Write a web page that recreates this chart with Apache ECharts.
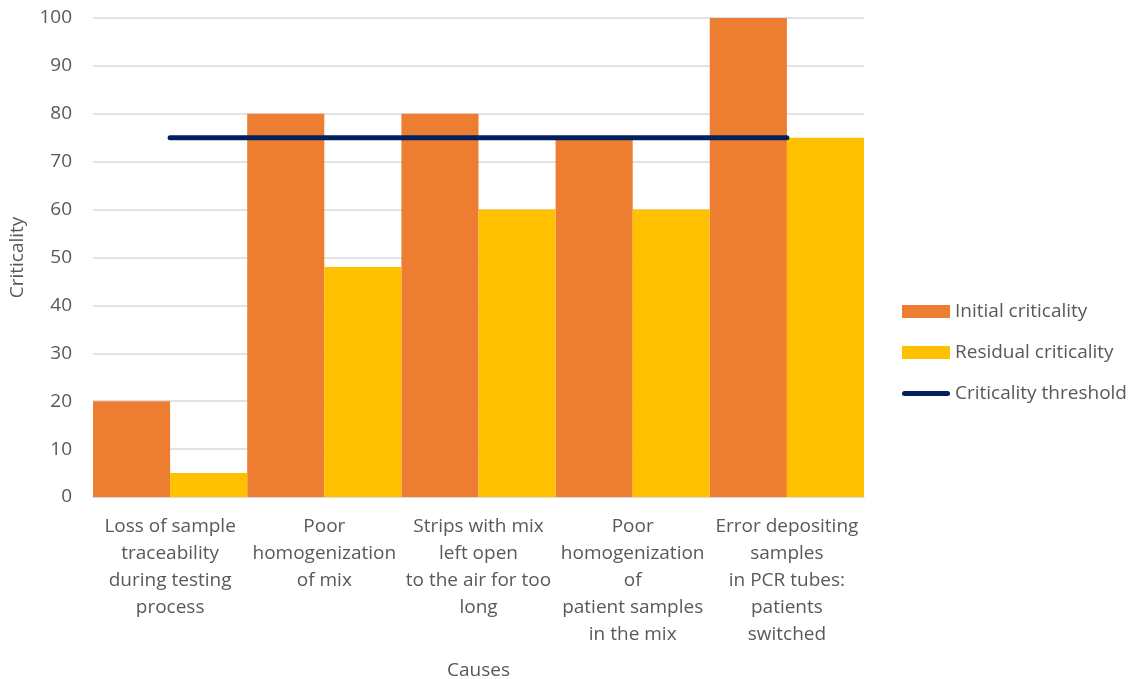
<!DOCTYPE html>
<html><head><meta charset="utf-8">
<script src="https://cdn.jsdelivr.net/npm/echarts@6/dist/echarts.min.js"></script>
<style>html,body{margin:0;padding:0;background:#fff}#c{width:1137px;height:679px}</style>
</head><body><div id="c"></div>
<script>
var categories = [
  "Loss of sample\ntraceability\nduring testing\nprocess",
  "Poor\nhomogenization\nof mix",
  "Strips with mix\nleft open\nto the air for too\nlong",
  "Poor\nhomogenization\nof\npatient samples\nin the mix",
  "Error depositing\nsamples\nin PCR tubes:\npatients\nswitched"
];
var initialCriticality = [20, 80, 80, 75, 100];
var residualCriticality = [5, 48, 60, 60, 75];
var criticalityThreshold = [75, 75, 75, 75, 75];

var font = "'Open Sans', sans-serif";
var fs = 19;
var chart = echarts.init(document.getElementById('c'));
chart.setOption({
  animation: false,
  textStyle: {fontFamily: font},
  grid: {left: 93, right: 273, top: 18, bottom: 182, outerBoundsMode: 'none', containLabel: false},
  legend: {
    orient: 'vertical', left: 897, top: 297, itemWidth: 48, itemHeight: 13, itemGap: 22,
    textStyle: {fontSize: fs, color: '#595959', fontFamily: font},
    data: [
      {name: 'Initial criticality', icon: 'rect'},
      {name: 'Residual criticality', icon: 'rect'},
      {name: 'Criticality threshold',
       icon: 'path://M2.5,0 L45.5,0 A2.5,2.5 0 0 1 45.5,5 L2.5,5 A2.5,2.5 0 0 1 2.5,0 Z',
       itemStyle: {color: '#002060'}}
    ]
  },
  xAxis: {
    type: 'category', data: categories,
    name: 'Causes', nameLocation: 'middle', nameGap: 164,
    nameTextStyle: {fontSize: fs, color: '#595959'},
    axisLine: {lineStyle: {color: '#d9d9d9', width: 1.5}},
    axisTick: {show: false},
    axisLabel: {fontSize: fs, color: '#595959', lineHeight: 27, margin: 16, interval: 0}
  },
  yAxis: {
    type: 'value', min: 0, max: 100, interval: 10,
    name: 'Criticality', nameLocation: 'middle', nameGap: 66,
    nameTextStyle: {fontSize: fs, color: '#595959'},
    axisLabel: {fontSize: fs, color: '#595959', margin: 21},
    splitLine: {lineStyle: {color: '#d9d9d9', width: 1.5}},
    axisLine: {show: false}, axisTick: {show: false}
  },
  series: [
    {name: 'Initial criticality', type: 'bar', data: initialCriticality,
     itemStyle: {color: '#ED7D31'}, barGap: '0%', barCategoryGap: '0%'},
    {name: 'Residual criticality', type: 'bar', data: residualCriticality,
     itemStyle: {color: '#FFC000'}},
    {name: 'Criticality threshold', type: 'line', data: criticalityThreshold,
     symbol: 'none', z: 5,
     lineStyle: {color: '#002060', width: 5, cap: 'round'},
     itemStyle: {color: '#002060'}}
  ]
});
</script></body></html>
